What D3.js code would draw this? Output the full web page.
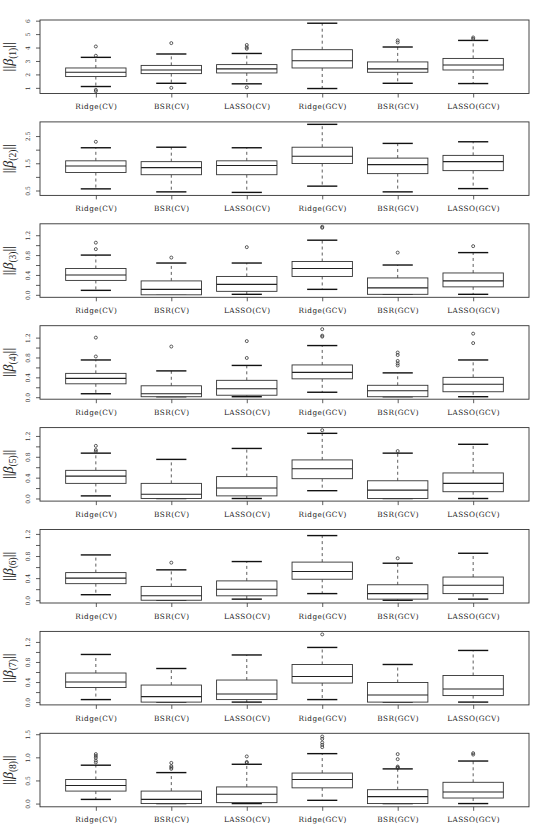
<!DOCTYPE html>
<html><head><meta charset="utf-8">
<script src="https://cdn.jsdelivr.net/npm/d3@7"></script>
<style>body{margin:0;background:#fff}svg{display:block}</style>
</head><body>
<svg id="c" width="536" height="825"></svg>
<script>
// Categories
const methods = ["Ridge(CV)", "BSR(CV)", "LASSO(CV)", "Ridge(GCV)", "BSR(GCV)", "LASSO(GCV)"];
const panelSubscripts = ["(1)", "(2)", "(3)", "(4)", "(5)", "(6)", "(7)", "(8)"];

// Box statistics per panel: [lower whisker, Q1, median, Q3, upper whisker] per method
const beta1Stats = [[1.10,1.84,2.16,2.48,3.27],[1.34,2.06,2.33,2.67,3.52],[1.30,2.11,2.41,2.73,3.56],[0.95,2.48,3.02,3.84,5.81],[1.34,2.16,2.41,2.93,4.04],[1.32,2.33,2.70,3.19,4.53]];
const beta1Out = [[4.08,3.39,0.85,0.75],[4.33,1.00],[4.19,4.01,3.91,1.04],[],[4.53,4.38],[4.75,4.65]];

const beta2Stats = [[0.56,1.16,1.40,1.59,2.07],[0.45,1.08,1.34,1.56,2.09],[0.43,1.08,1.42,1.59,2.07],[0.66,1.49,1.76,2.09,2.93],[0.45,1.12,1.45,1.69,2.23],[0.57,1.23,1.56,1.79,2.29]];
const beta2Out = [[2.29],[],[],[],[],[]];

const beta3Stats = [[0.09,0.29,0.40,0.53,0.80],[0.01,0.00,0.11,0.28,0.64],[0.01,0.07,0.21,0.37,0.64],[0.11,0.37,0.53,0.67,1.10],[0.01,0.01,0.14,0.34,0.60],[0.01,0.16,0.28,0.44,0.85]];
const beta3Out = [[1.05,0.92],[0.75],[0.96],[1.35,1.37],[0.85],[0.98]];

const beta4Stats = [[0.07,0.27,0.38,0.48,0.75],[0.01,0.01,0.07,0.23,0.53],[0.01,0.04,0.17,0.34,0.64],[0.10,0.37,0.50,0.65,1.04],[0.01,0.01,0.13,0.24,0.49],[0.01,0.11,0.26,0.40,0.75]];
const beta4Out = [[0.82,1.20],[1.02],[0.79,1.13],[1.22,1.24,1.37],[0.64,0.68,0.73,0.85,0.90],[1.09,1.28]];

const beta5Stats = [[0.05,0.29,0.43,0.54,0.87],[0.00,0.00,0.08,0.29,0.75],[0.00,0.05,0.20,0.42,0.96],[0.15,0.38,0.57,0.74,1.25],[0.00,0.00,0.16,0.34,0.87],[0.00,0.13,0.29,0.49,1.04]];
const beta5Out = [[0.90,0.93,1.01],[],[],[1.31],[0.91],[]];

const beta6Stats = [[0.10,0.30,0.40,0.50,0.82],[0.00,0.00,0.08,0.25,0.55],[0.02,0.08,0.20,0.35,0.70],[0.12,0.38,0.52,0.69,1.17],[0.00,0.02,0.12,0.28,0.67],[0.02,0.12,0.27,0.42,0.85]];
const beta6Out = [[],[0.68],[],[],[0.76],[]];

const beta7Stats = [[0.05,0.29,0.40,0.58,0.95],[0.00,0.00,0.11,0.34,0.67],[0.00,0.05,0.16,0.44,0.94],[0.05,0.38,0.51,0.75,1.09],[0.00,0.00,0.14,0.39,0.75],[0.00,0.13,0.26,0.53,1.03]];
const beta7Out = [[],[],[],[1.35],[],[]];

const beta8Stats = [[0.09,0.27,0.39,0.52,0.83],[0.00,0.00,0.09,0.27,0.67],[0.00,0.02,0.20,0.36,0.85],[0.07,0.34,0.52,0.66,1.08],[0.00,0.00,0.15,0.30,0.75],[0.00,0.12,0.25,0.46,0.92]];
const beta8Out = [[0.89,0.93,0.99,1.03,1.07],[0.75,0.78,0.81,0.88],[0.88,0.90,1.02],[1.22,1.27,1.32,1.40,1.45],[0.77,0.78,0.80,0.96,1.07],[1.06,1.09]];

const statsByPanel = [beta1Stats, beta2Stats, beta3Stats, beta4Stats, beta5Stats, beta6Stats, beta7Stats, beta8Stats];
const outByPanel = [beta1Out, beta2Out, beta3Out, beta4Out, beta5Out, beta6Out, beta7Out, beta8Out];

// Axis ranges and ticks
const yDomains = [[0.58,6.05],[0.32,3.02],[-0.05,1.43],[-0.04,1.44],[-0.05,1.36],[-0.05,1.28],[-0.056,1.41],[-0.07,1.52]];
const ticksA = [1,2,3,4,5,6];
const ticksB = [0.5,1.0,1.5,2.0,2.5];
const ticksC = [0,0.2,0.4,0.6,0.8,1.0,1.2];
const ticksD = [0,0.5,1.0,1.5];
const yTicks = [ticksA, ticksB, ticksC, ticksC, ticksC, ticksC, ticksC, ticksD];
const labelsA = ["1","2","3","4","5","6"];
const labelsB = ["0.5","","1.5","","2.5"];
const labelsC = ["0.0","","0.4","","0.8","","1.2"];
const labelsD = ["0.0","0.5","1.0","1.5"];
const yTickLabels = [labelsA, labelsB, labelsC, labelsC, labelsC, labelsC, labelsC, labelsD];

// Layout
const left = 40, right = 529, panelH = 73.5, firstTop = 20, step = 101.9;
const svg = d3.select("#c");
const x = d3.scaleLinear().domain([0.26, 6.74]).range([left, right]);
const serif = "'DejaVu Serif', serif";

statsByPanel.forEach((stats, p) => {
  const top = firstTop + p * step;
  const g = svg.append("g").attr("transform", `translate(0,${top})`);
  const y = d3.scaleLinear().domain(yDomains[p]).range([panelH, 0]);

  // y axis
  const ya = g.append("g").attr("transform", `translate(${left},0)`)
    .call(d3.axisLeft(y).tickValues(yTicks[p]).tickSize(4).tickSizeOuter(0)
      .tickFormat((d, i) => yTickLabels[p][i]));
  ya.select(".domain").remove();
  ya.selectAll("line").attr("stroke", "#333").attr("stroke-width", 0.8);
  ya.selectAll("text").attr("transform", "rotate(-90)").attr("x", 0).attr("y", -12.5)
    .attr("dy", "0.35em").style("text-anchor", "middle")
    .style("font-family", serif).style("font-size", "6px").attr("fill", "#333");

  // x axis
  const xa = g.append("g").attr("transform", `translate(0,${panelH})`)
    .call(d3.axisBottom(x).tickValues([1,2,3,4,5,6]).tickSize(4).tickSizeOuter(0)
      .tickFormat(i => methods[i - 1]));
  xa.select(".domain").remove();
  xa.selectAll("line").attr("stroke", "#333").attr("stroke-width", 0.8);
  xa.selectAll("text").attr("y", 13.3).attr("dy", "0.32em")
    .style("font-family", serif).style("font-size", "7.3px").style("letter-spacing", "0.45px").attr("fill", "#222");

  // frame
  g.append("rect").attr("x", left).attr("y", 0).attr("width", right - left).attr("height", panelH)
    .attr("fill", "none").attr("stroke", "#333").attr("stroke-width", 0.9);

  // boxes
  const bw = x(1.4) - x(1);
  const sw = x(1.2) - x(1);
  stats.forEach((s, i) => {
    const cx = x(i + 1);
    const [lo, q1, med, q3, hi] = s;
    const bg = g.append("g");
    bg.append("line").attr("x1", cx).attr("x2", cx).attr("y1", y(q3)).attr("y2", y(hi))
      .attr("stroke", "#333").attr("stroke-width", 0.8).attr("stroke-dasharray", "3,3");
    bg.append("line").attr("x1", cx).attr("x2", cx).attr("y1", y(q1)).attr("y2", y(lo))
      .attr("stroke", "#333").attr("stroke-width", 0.8).attr("stroke-dasharray", "3,3");
    bg.append("line").attr("x1", cx - sw).attr("x2", cx + sw).attr("y1", y(hi)).attr("y2", y(hi))
      .attr("stroke", "#111").attr("stroke-width", 1.4);
    bg.append("line").attr("x1", cx - sw).attr("x2", cx + sw).attr("y1", y(lo)).attr("y2", y(lo))
      .attr("stroke", "#111").attr("stroke-width", 1.4);
    bg.append("rect").attr("x", cx - bw).attr("y", y(q3)).attr("width", 2 * bw)
      .attr("height", Math.max(0.5, y(q1) - y(q3)))
      .attr("fill", "#fff").attr("stroke", "#333").attr("stroke-width", 0.9);
    bg.append("line").attr("x1", cx - bw).attr("x2", cx + bw).attr("y1", y(med)).attr("y2", y(med))
      .attr("stroke", "#222").attr("stroke-width", 1.1);
    bg.selectAll("circle").data(outByPanel[p][i]).enter().append("circle")
      .attr("cx", cx).attr("cy", d => y(d)).attr("r", 1.5)
      .attr("fill", "none").attr("stroke", "#333").attr("stroke-width", 0.8);
  });

  // y label
  const lab = g.append("text")
    .attr("transform", `translate(13,${panelH / 2}) rotate(-90)`)
    .attr("text-anchor", "middle").attr("fill", "#222")
    .style("font-family", "'Liberation Serif', serif").style("font-size", "14px");
  lab.append("tspan").text("||");
  lab.append("tspan").text("β").style("font-style", "italic");
  lab.append("tspan").text(panelSubscripts[p]).attr("font-size", "9.5px").attr("dy", "3");
  lab.append("tspan").text("||").attr("dy", "-3");
});
</script>
</body></html>
